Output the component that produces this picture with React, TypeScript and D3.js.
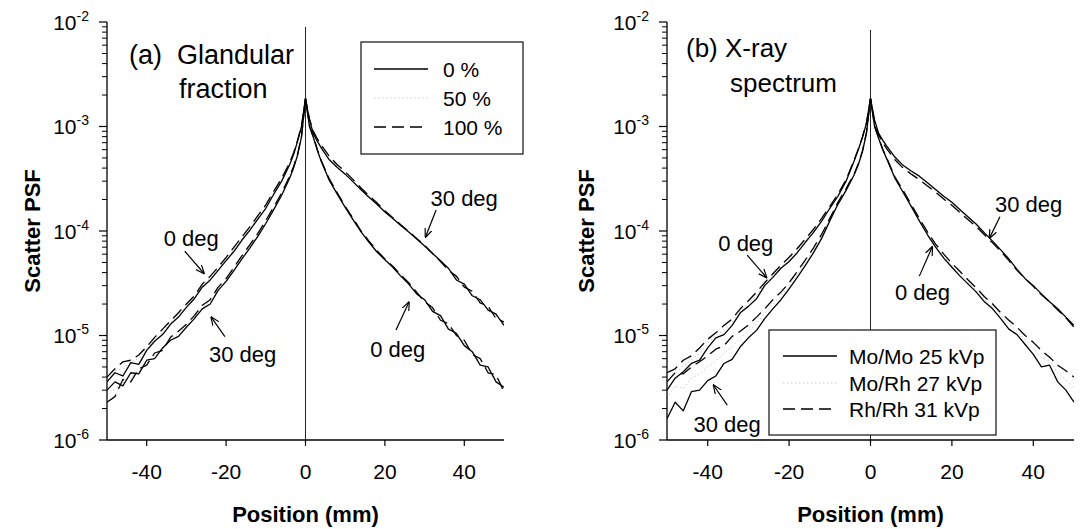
import React from "react";
import * as d3 from "d3";

// Position (mm)
const positions = [-50,-48,-46,-44,-42,-40,-38,-36,-34,-32,-30,-28,-26,-24,-22,-20,-18,-16,-14,-12,-10,-8,-6,-4,-3,-2,-1,0,1,2,3,4,6,8,10,12,14,16,18,20,22,24,26,28,30,32,34,36,38,40,42,44,46,48,50];

// Scatter PSF values, in units of 1e-6
// Panel (a) glandular fraction
const a_0deg_0 = [3.6,4.4,4.1,5.5,5.3,7.2,8.8,10.2,12.8,15.0,18.6,22.5,29,34,42,52,64,82,102,130,165,225,300,430,540,720,1000,1850,1000,780,590,460,305,225,168,128,98,78,63,53,45,37,31,25,22,17,15.5,11.5,10.5,8.0,7.0,5.2,5.0,3.6,3.2];
const a_0deg_50 = [3.8,4.6,4.8,5.6,6.0,7.5,9.2,10.8,13.3,15.8,19.3,23.2,30,35.5,43.5,54,67,85,106,135,171,232,310,440,550,730,1010,1850,1010,790,595,465,310,228,170,130,99,79,64,53.5,45.5,37.5,31.5,25.5,21.5,17.7,14.8,12.2,10.2,8.5,6.8,5.6,4.7,3.9,3.1];
const a_0deg_100 = [4.0,4.8,5.6,5.8,6.5,7.8,9.6,11.5,13.8,16.5,20,24,31,37,45,56,70,88,110,140,178,240,320,450,560,740,1020,1850,1020,800,600,470,315,232,172,132,100,80,65,54,46,38,32,26,21,18.5,14,13,10,9.0,6.6,6.0,4.4,4.2,2.9];
const a_30deg_0 = [3.0,3.6,3.3,4.4,4.3,5.8,6.0,7.6,9.0,9.8,12,14.5,18,20,27,33,42,54,69,89,118,160,220,320,400,530,800,1850,1150,850,720,620,480,405,350,295,248,210,180,152,132,113,98,84,72,61,52,44,34,31,24,22,17.5,16,12.5];
const a_30deg_50 = [2.7,3.1,3.5,4.0,4.5,5.5,6.4,7.4,9.3,10.4,12.4,15,18.7,21,28,34,43.5,56,71.5,92,122,165,226,328,408,538,805,1850,1165,875,740,640,500,418,360,302,253,214,183,154,133,114,98.5,84.5,72.5,61,51.5,43,35.5,30,25,21.2,18.2,15.2,13];
const a_30deg_100 = [2.3,2.6,3.8,3.6,4.8,5.2,6.8,7.2,9.6,11,12.8,15.5,19.5,22,29,35,45,58,74,95,126,170,232,335,415,545,810,1850,1180,900,760,660,520,430,370,310,258,218,186,156,134,115,99,85,73,61,51,42,37,29,26.5,20.5,19,14.5,13.5];

// Panel (b) x-ray spectrum
const b_0deg_MoMo = [3.0,3.9,4.5,5.4,5.8,7.6,9.5,10.2,12.5,16.5,19,22.5,30,36,44,51,62,78,97,124,165,215,300,470,600,780,1070,1850,1000,770,600,490,320,235,172,125,92,70,55,45,37,31,26,21,18,14.5,11.5,10.2,8.2,6.6,5.0,5.2,3.6,3.0,2.3];
const b_0deg_MoRh = [3.7,4.3,5.1,5.9,6.7,8.4,10,11.3,13.4,17.2,20.2,24.2,31,37.5,45.5,53.5,65,81,100,128,168,220,305,475,605,785,1075,1850,1005,775,605,495,325,240,176,128,95,72,57,47,39,32.5,27,22,19,15.5,12.8,11.1,9.1,7.6,6.1,5.7,4.4,3.8,3.1];
const b_0deg_RhRh = [4.4,4.8,5.8,6.4,7.6,9.2,10.6,12.5,14.4,18,21.5,26,32,39,47,56,68,84,104,132,172,225,310,480,610,790,1080,1850,1010,780,610,500,330,245,180,132,98,75,60,49,41,34,28.5,23.5,20,16.5,14,12,10,8.6,7.2,6.2,5.2,4.6,4.0];
const b_30deg_MoMo = [1.6,2.3,1.9,2.9,3.0,3.7,4.1,5.4,5.9,7.8,9.5,11.2,14.5,18,22,28,36,47,62,85,125,180,245,345,430,570,860,1850,1150,860,740,650,510,425,375,335,290,250,215,188,160,136,116,96,80,66,54,43,35,30,25,21,18,15,12.5];
const b_30deg_MoRh = [2.5,3.3,3.1,3.9,4.3,5.0,5.7,6.7,7.8,9.4,11,13,16.2,20,24,30,38.5,50,65.5,89,128,184,250,350,435,575,865,1850,1135,845,720,630,495,412,362,322,280,242,208,182,155,132,113,94,78.5,65,53,42.5,35,29.8,24.8,21,17.8,14.9,12.2];
const b_30deg_RhRh = [3.6,4.4,4.3,5.0,5.6,6.4,7.4,8.0,9.8,11,12.6,15,18,22,26,32,41,53,69,93,132,188,255,355,440,580,870,1850,1120,830,700,610,480,400,350,310,270,235,202,176,150,128,110,92,77,64,52,42,35,29.5,24.5,21,17.5,14.8,12];

const UNIT = 1e-6;
const yTickExponents = [-2, -3, -4, -5, -6];
const xTickValues = [-40, -20, 0, 20, 40];
const legendA = ["0 %", "50 %", "100 %"];
const legendB = ["Mo/Mo 25 kVp", "Mo/Rh 27 kVp", "Rh/Rh 31 kVp"];

// annotations in data coordinates [x mm, value]
const annA = [
  { text: "0 deg", at: [-35.7, 7.2e-5], from: [-30.4, 6.4e-5], to: [-25.5, 3.9e-5] },
  { text: "30 deg", at: [-24.3, 5.6e-6], from: [-20.3, 9.75e-6], to: [-23.8, 1.51e-5] },
  { text: "30 deg", at: [31.5, 1.75e-4], from: [32.9, 1.59e-4], to: [30.2, 8.7e-5] },
  { text: "0 deg", at: [16.3, 6.27e-6], from: [22.8, 1.13e-5], to: [26.1, 2.1e-5] },
];
const annB = [
  { text: "0 deg", at: [-37.4, 6.47e-5], from: [-30.3, 5.89e-5], to: [-25.5, 3.57e-5] },
  { text: "30 deg", at: [-43.5, 1.2e-6], from: [-35.2, 2.16e-6], to: [-38.6, 3.36e-6] },
  { text: "30 deg", at: [30.6, 1.53e-4], from: [31.8, 1.37e-4], to: [29.2, 8.5e-5] },
  { text: "0 deg", at: [6.0, 2.19e-5], from: [12.0, 3.7e-5], to: [15.2, 7.08e-5] },
];

const FONT = "'Liberation Sans', Arial, sans-serif";
const Y_TOP = 22;
const Y_BOTTOM = 440;

const STYLES = [
  { stroke: "#000", dash: "none", width: 1.3 },
  { stroke: "#c8c8c8", dash: "1.5,2.5", width: 1 },
  { stroke: "#000", dash: "12,6", width: 1.3 },
];

type Ann = { text: string; at: number[]; from: number[]; to: number[] };

function Panel(props: {
  id: string;
  left: number;
  width: number;
  series: number[][];
  legend: string[];
  legendBox: { x: number; y: number; w: number; h: number; lineX: number; textX: number; rowY: number[] };
  title: { lines: string[]; xs: number[]; ys: number[]; size: number };
  anns: Ann[];
  zeroTop: number;
  yTitleX: number;
}) {
  const { id, left, width, series, legend, legendBox, title, anns, zeroTop, yTitleX } = props;
  const x = d3.scaleLinear().domain([-50, 50]).range([left, left + width]);
  const y = d3.scaleLog().domain([1e-6, 1e-2]).range([Y_BOTTOM, Y_TOP]);
  const line = d3
    .line<number>()
    .x((_, i) => x(positions[i]))
    .y((v) => y(v * UNIT));
  const minor: number[] = [];
  for (let e = -6; e < -2; e++) for (let m = 2; m <= 9; m++) minor.push(m * Math.pow(10, e));
  const axisX = x(-50);
  const order = [0, 1, 2];
  return (
    <g>
      <defs>
        <clipPath id={"clip" + id}>
          <rect x={axisX} y={0} width={width} height={Y_BOTTOM} />
        </clipPath>
      </defs>
      <line x1={x(0)} x2={x(0)} y1={y(1e-6)} y2={zeroTop} stroke="#222" strokeWidth={1} />
      <g clipPath={`url(#clip${id})`}>
        {[1, 0, 2].map((k) =>
          [series[k], series[k + 3]].map((s, j) => (
            <path
              key={k + "-" + j}
              d={line(s) || ""}
              fill="none"
              stroke={STYLES[k].stroke}
              strokeWidth={STYLES[k].width}
              strokeDasharray={STYLES[k].dash}
              strokeLinejoin="round"
            />
          ))
        )}
      </g>
      <line x1={axisX} x2={axisX} y1={Y_TOP} y2={Y_BOTTOM} stroke="#000" strokeWidth={1.3} />
      <line x1={axisX} x2={x(50)} y1={Y_BOTTOM} y2={Y_BOTTOM} stroke="#000" strokeWidth={1.3} />
      {yTickExponents.map((e) => {
        const yy = y(Math.pow(10, e));
        return (
          <g key={"yt" + e}>
            <line x1={axisX - 8} x2={axisX} y1={yy} y2={yy} stroke="#000" strokeWidth={1.2} />
            <text x={axisX - 18} y={yy + 7.5} textAnchor="end" fontFamily={FONT} fontSize={21}>
              10
              <tspan fontSize={14} dy={-9}>
                {String(e)}
              </tspan>
            </text>
          </g>
        );
      })}
      {minor.map((v, i) => (
        <line key={"ym" + i} x1={axisX - 5} x2={axisX} y1={y(v)} y2={y(v)} stroke="#000" strokeWidth={1} />
      ))}
      {xTickValues.map((t) => (
        <g key={"xt" + t}>
          <line x1={x(t)} x2={x(t)} y1={Y_BOTTOM} y2={Y_BOTTOM + 6} stroke="#000" strokeWidth={1.2} />
          <text x={x(t)} y={479} textAnchor="middle" fontFamily={FONT} fontSize={21}>
            {String(t)}
          </text>
        </g>
      ))}
      <text x={x(0)} y={522} textAnchor="middle" fontFamily={FONT} fontSize={22} fontWeight="bold">
        Position (mm)
      </text>
      <text
        transform={`translate(${yTitleX},${(Y_TOP + Y_BOTTOM) / 2}) rotate(-90)`}
        textAnchor="middle"
        fontFamily={FONT}
        fontSize={22}
        fontWeight="bold"
      >
        Scatter PSF
      </text>
      {title.lines.map((t, i) => (
        <text key={"ti" + i} x={title.xs[i]} y={title.ys[i]} fontFamily={FONT} fontSize={title.size} style={{ whiteSpace: "pre" }}>
          {t}
        </text>
      ))}
      <rect x={legendBox.x} y={legendBox.y} width={legendBox.w} height={legendBox.h} fill="#fff" stroke="#222" strokeWidth={1.3} />
      {order.map((k) => (
        <g key={"lg" + k}>
          <line
            x1={legendBox.lineX}
            x2={legendBox.lineX + 54}
            y1={legendBox.rowY[k]}
            y2={legendBox.rowY[k]}
            stroke={STYLES[k].stroke}
            strokeWidth={STYLES[k].width}
            strokeDasharray={STYLES[k].dash}
          />
          <text x={legendBox.textX} y={legendBox.rowY[k] + 7.5} fontFamily={FONT} fontSize={21}>
            {legend[k]}
          </text>
        </g>
      ))}
      {anns.map((a, i) => (
        <g key={"an" + i}>
          <text x={x(a.at[0])} y={y(a.at[1])} fontFamily={FONT} fontSize={22}>
            {a.text}
          </text>
          <line
            x1={x(a.from[0])}
            y1={y(a.from[1])}
            x2={x(a.to[0])}
            y2={y(a.to[1])}
            stroke="#000"
            strokeWidth={1.2}
            markerEnd="url(#arrowhead)"
          />
        </g>
      ))}
    </g>
  );
}

export default function App() {
  return (
    <svg
      width={1088}
      height={529}
      viewBox="0 0 1088 529"
      style={{ position: "absolute", left: 0, top: 0, background: "#fff" }}
    >
      <defs>
        <marker id="arrowhead" viewBox="0 0 10 10" refX={9.5} refY={5} markerWidth={9} markerHeight={9} markerUnits="userSpaceOnUse" orient="auto">
          <path d="M0,1 L10,5 L0,9" fill="none" stroke="#000" strokeWidth={1.3} />
        </marker>
      </defs>
      <rect x={0} y={0} width={1088} height={529} fill="#fff" />
      <Panel
        id="a"
        left={107}
        width={397}
        series={[a_0deg_0, a_0deg_50, a_0deg_100, a_30deg_0, a_30deg_50, a_30deg_100]}
        legend={legendA}
        legendBox={{ x: 361, y: 42, w: 162, h: 112, lineX: 374, textX: 443, rowY: [69, 98, 127] }}
        title={{ lines: ["(a)  Glandular", "fraction"], xs: [129, 179], ys: [64, 98], size: 27 }}
        anns={annA}
        zeroTop={27}
        yTitleX={40}
      />
      <Panel
        id="b"
        left={667}
        width={407}
        series={[b_0deg_MoMo, b_0deg_MoRh, b_0deg_RhRh, b_30deg_MoMo, b_30deg_MoRh, b_30deg_RhRh]}
        legend={legendB}
        legendBox={{ x: 769, y: 330, w: 227, h: 105, lineX: 783, textX: 849, rowY: [356, 383, 409] }}
        title={{ lines: ["(b) X-ray", "spectrum"], xs: [686, 730], ys: [57, 92], size: 26 }}
        anns={annB}
        zeroTop={30}
        yTitleX={594}
      />
    </svg>
  );
}
